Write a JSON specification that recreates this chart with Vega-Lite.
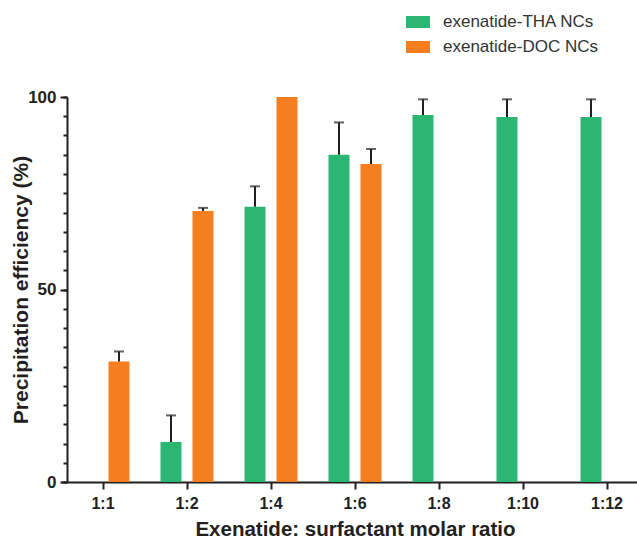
{
  "$schema": "https://vega.github.io/schema/vega-lite/v6.json",
  "width": 570,
  "height": 385,
  "autosize": "none",
  "padding": {"left": 67, "top": 97, "right": 0, "bottom": 57},
  "background": "white",
  "config": {
    "font": "Liberation Sans",
    "view": {"stroke": null},
    "axis": {
      "domainColor": "#231f20",
      "domainWidth": 2,
      "tickColor": "#231f20",
      "tickWidth": 2,
      "labelColor": "#231f20",
      "labelFont": "Liberation Sans",
      "labelFontWeight": "bold",
      "titleColor": "#231f20",
      "titleFont": "Liberation Sans",
      "titleFontWeight": "bold",
      "grid": false
    }
  },
  "data": {
    "values": [
      {"ratio": "1:1", "series": "exenatide-DOC NCs", "value": 31.3, "upper": 33.9},
      {"ratio": "1:2", "series": "exenatide-THA NCs", "value": 10.4, "upper": 17.3},
      {"ratio": "1:2", "series": "exenatide-DOC NCs", "value": 70.4, "upper": 71.2},
      {"ratio": "1:4", "series": "exenatide-THA NCs", "value": 71.5, "upper": 76.8},
      {"ratio": "1:4", "series": "exenatide-DOC NCs", "value": 100, "upper": null},
      {"ratio": "1:6", "series": "exenatide-THA NCs", "value": 85.0, "upper": 93.4},
      {"ratio": "1:6", "series": "exenatide-DOC NCs", "value": 82.6, "upper": 86.5},
      {"ratio": "1:8", "series": "exenatide-THA NCs", "value": 95.3, "upper": 99.4},
      {"ratio": "1:10", "series": "exenatide-THA NCs", "value": 94.8, "upper": 99.4},
      {"ratio": "1:12", "series": "exenatide-THA NCs", "value": 94.8, "upper": 99.4}
    ]
  },
  "encoding": {
    "x": {
      "field": "ratio",
      "type": "nominal",
      "sort": ["1:1", "1:2", "1:4", "1:6", "1:8", "1:10", "1:12"],
      "scale": {"domain": ["1:1", "1:2", "1:4", "1:6", "1:8", "1:10", "1:12"], "range": [-6, 582], "paddingInner": 0, "paddingOuter": 0},
      "axis": {
        "title": "Exenatide: surfactant molar ratio",
        "labelAngle": 0,
        "labelFontSize": 16,
        "labelPadding": 6,
        "tickSize": 7,
        "titleFontSize": 20.5,
        "titlePadding": 8
      }
    },
    "xOffset": {
      "field": "series",
      "type": "nominal",
      "scale": {"domain": ["exenatide-THA NCs", "exenatide-DOC NCs"], "paddingInner": 0.344, "paddingOuter": 0.484}
    }
  },
  "resolve": {"axis": {"y": "independent"}},
  "layer": [
    {
      "mark": {"type": "bar"},
      "encoding": {
        "y": {
          "field": "value",
          "type": "quantitative",
          "scale": {"domain": [0, 100], "nice": false},
          "axis": {
            "orient": "left",
            "title": "Precipitation efficiency (%)",
            "values": [0, 5, 10, 15, 20, 25, 30, 35, 40, 45, 50, 55, 60, 65, 70, 75, 80, 85, 90, 95, 100],
            "labelExpr": "datum.value % 50 === 0 ? datum.label : ''",
            "labelOverlap": false,
            "tickSize": 4,
            "labelFontSize": 17,
            "labelPadding": 7,
            "titleFontSize": 21,
            "titleX": -36
          }
        },
        "color": {
          "field": "series",
          "type": "nominal",
          "scale": {"domain": ["exenatide-THA NCs", "exenatide-DOC NCs"], "range": ["#2bb673", "#f47e20"]},
          "legend": {
            "title": null,
            "orient": "none",
            "legendX": 339,
            "legendY": -87,
            "symbolType": "M-1,-0.5H1V0.5H-1Z",
            "symbolSize": 576,
            "symbolStrokeWidth": 0,
            "labelFontSize": 17,
            "labelFont": "Liberation Sans",
            "labelColor": "#333333",
            "labelOffset": 13,
            "rowPadding": 5
          }
        }
      }
    },
    {
      "transform": [{"filter": "datum.upper != null"}],
      "mark": {"type": "rule", "color": "#231f20", "strokeWidth": 2},
      "encoding": {
        "y": {
          "field": "value",
          "type": "quantitative",
          "axis": {
            "orient": "left",
            "title": null,
            "values": [0, 50, 100],
            "labels": false,
            "domain": false,
            "tickSize": 7
          }
        },
        "y2": {"field": "upper"}
      }
    },
    {
      "transform": [{"filter": "datum.upper != null"}],
      "mark": {"type": "tick", "color": "#231f20", "thickness": 2, "size": 10},
      "encoding": {
        "y": {"field": "upper", "type": "quantitative", "axis": null}
      }
    }
  ]
}
